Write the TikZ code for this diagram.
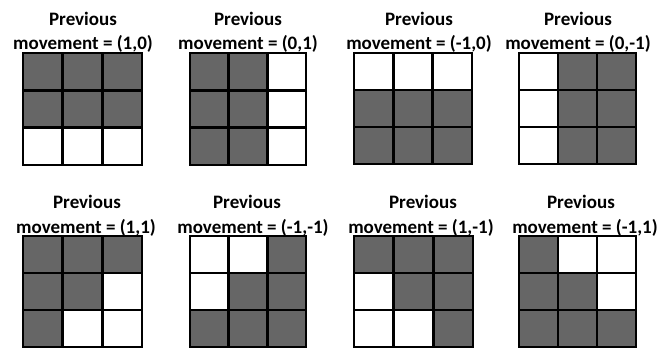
\documentclass[tikz,border=0pt]{standalone}
\usepackage{fontspec}
\setmainfont{Carlito}
\definecolor{cellgray}{RGB}{102,102,102}
\tikzset{
  lbl/.style={font=\bfseries\fontsize{19}{21}\selectfont, anchor=base, inner sep=0pt},
  gridline/.style={line width=2.4pt, line cap=rect}
}
% #1 x0, #2 y0, #3 x1, #4 y1, #5 list of gray cells col/row
\newcommand{\mvgrid}[5]{%
  \begin{scope}[shift={(#1,#2)}, xscale={(#3-#1)/3}, yscale={(#4-#2)/3}]
    \foreach \c/\r in {#5} {\fill[cellgray] (\c,\r) rectangle ({\c+1},{\r+1});}
    \foreach \k in {0,1,2,3} {
      \draw[gridline] (\k,0) -- (\k,3);
      \draw[gridline] (0,\k) -- (3,\k);
    }
  \end{scope}}
\begin{document}
\begin{tikzpicture}[x=1pt,y=-1pt]
\useasboundingbox (0,0) rectangle (672,348);
\clip (0,0) rectangle (672,348);
% row 1 labels
\node[lbl] (p1) at (83,25) {Previous};
\node[lbl] (m1) at (83,49) {movement = (1,0)};
\node[lbl] (p2) at (248,25) {Previous};
\node[lbl] (m2) at (248,49) {movement = (0,1)};
\node[lbl] (p3) at (419,25) {Previous};
\node[lbl] (m3) at (419,49) {movement = (-1,0)};
\node[lbl] (p4) at (578,25) {Previous};
\node[lbl] (m4) at (578,49) {movement = (0,-1)};
% row 2 labels
\node[lbl] (p5) at (87,208) {Previous};
\node[lbl] (m5) at (86,233) {movement = (1,1)};
\node[lbl] (p6) at (247,208) {Previous};
\node[lbl] (m6) at (253,233) {movement = (-1,-1)};
\node[lbl] (p7) at (423,208) {Previous};
\node[lbl] (m7) at (421,233) {movement = (1,-1)};
\node[lbl] (p8) at (581,208) {Previous};
\node[lbl] (m8) at (585,233) {movement = (-1,1)};
% row 1 grids
\mvgrid{23}{53}{142}{165}{0/0,1/0,2/0,0/1,1/1,2/1}
\mvgrid{190}{53}{306}{165}{0/0,1/0,0/1,1/1,0/2,1/2}
\mvgrid{354}{53}{472}{164}{0/1,1/1,2/1,0/2,1/2,2/2}
\mvgrid{519}{53}{636}{164}{1/0,2/0,1/1,2/1,1/2,2/2}
% row 2 grids
\mvgrid{23}{236}{142}{347}{0/0,1/0,2/0,0/1,1/1,0/2}
\mvgrid{190}{236}{306}{347}{2/0,1/1,2/1,0/2,1/2,2/2}
\mvgrid{354}{236}{473}{347}{0/0,1/0,2/0,1/1,2/1,2/2}
\mvgrid{519}{236}{636}{347}{0/0,0/1,1/1,0/2,1/2,2/2}
\end{tikzpicture}
\end{document}
